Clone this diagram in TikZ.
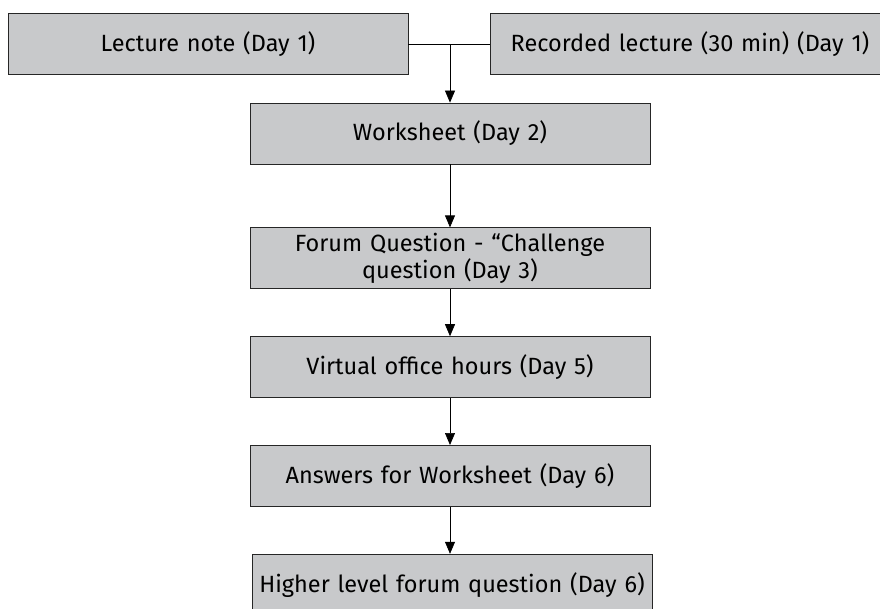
\documentclass[tikz,border=0pt]{standalone}
\usepackage{fontspec}
\setmainfont{Fira Sans}
\usetikzlibrary{positioning,arrows.meta}
\definecolor{boxgray}{RGB}{200,201,203}

\begin{document}
\begin{tikzpicture}[x=1pt, y=1pt, node distance=47pt,
    stage/.style={rectangle, draw=black!85, fill=boxgray, line width=0.8pt, minimum width=400pt, minimum height=61pt, text width=392pt, align=center, inner sep=0pt, font=\fontsize{23.5}{27}\selectfont},
    flow/.style={-{Triangle[length=12pt,width=10pt]}, line width=0.7pt}]

    \useasboundingbox (0,0) rectangle (880,-608);

    % day 1 materials side by side
    \node[stage] (lecture) at (208,-44) {Lecture note (Day 1)};
    \node[stage] (recorded) at (690,-44) {Recorded lecture (30 min) (Day 1)};

    \node[stage] (worksheet) at (450,-133.5) {Worksheet (Day 2)};
    \node[stage, below=63pt of worksheet] (forum) {Forum Question - “Challenge\\ question (Day 3)};
    \node[stage, below=of forum] (office) {Virtual office hours (Day 5)};
    \node[stage, below=of office] (answers) {Answers for Worksheet (Day 6)};
    \node[stage, below=of answers, xshift=2pt] (higher) {Higher level forum question (Day 6)};

    \coordinate (join) at (worksheet.north |- lecture.east);
    \draw[line width=0.7pt] (lecture) -- (recorded);
    \draw[flow] (join) -- (worksheet);
    \draw[flow] (worksheet) -- (forum);
    \draw[flow] (forum) -- (office);
    \draw[flow] (office) -- (answers);
    \draw[flow] (answers) -- (answers |- higher.north);
\end{tikzpicture}
\end{document}
